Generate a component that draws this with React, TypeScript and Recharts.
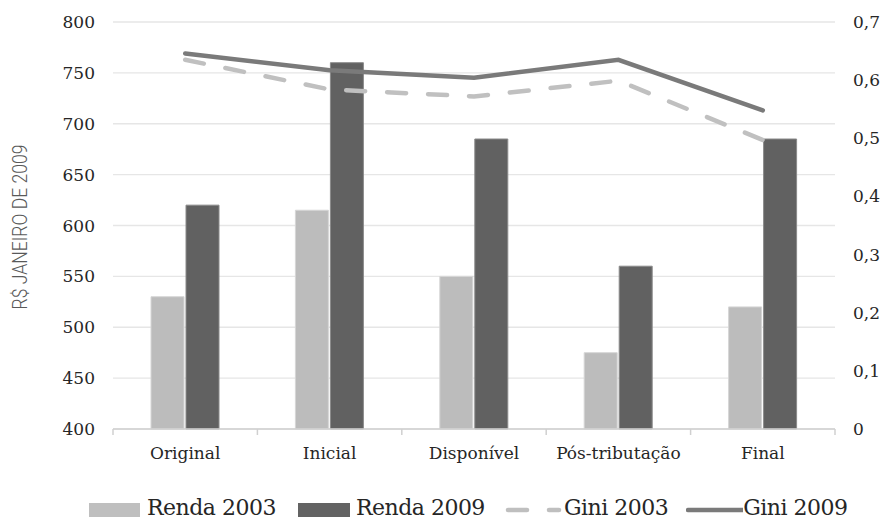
import { ComposedChart, Bar, Line, XAxis, YAxis, CartesianGrid, Legend } from 'recharts';

const categories = ['Original', 'Inicial', 'Disponível', 'Pós-tributação', 'Final'];
const renda2003 = [530, 615, 550, 475, 520];
const renda2009 = [620, 760, 685, 560, 685];
const gini2003 = [0.635, 0.584, 0.572, 0.599, 0.497];
const gini2009 = [0.646, 0.617, 0.604, 0.635, 0.548];
const leftTicks = [400, 450, 500, 550, 600, 650, 700, 750, 800];
const rightTicks = [0, 0.1, 0.2, 0.3, 0.4, 0.5, 0.6, 0.7];

const data = categories.map((c, i) => ({
  name: c,
  r2003: renda2003[i],
  r2009: renda2009[i],
  g2003: gini2003[i],
  g2009: gini2009[i],
}));

const SERIF = '"DejaVu Serif", serif';
const TEXT = '#262626';
const BAND = 722 / categories.length;

function CategoryTick(props: any) {
  const { x, y, payload, index } = props;
  return (
    <g>
      <line x1={x - BAND / 2} x2={x - BAND / 2} y1={y} y2={y + 6} stroke="#d0d0d0" strokeWidth={1.5} />
      {index === categories.length - 1 && (
        <line x1={x + BAND / 2} x2={x + BAND / 2} y1={y} y2={y + 6} stroke="#d0d0d0" strokeWidth={1.5} />
      )}
      <text x={x} y={y + 24} dy="0.35em" textAnchor="middle" fill={TEXT} fontFamily={SERIF} fontSize={17}>
        {payload.value}
      </text>
    </g>
  );
}

function RendaLabel() {
  return (
    <text
      transform="translate(20, 227) rotate(-90)"
      textAnchor="middle"
      dominantBaseline="central"
      fill="#595959"
      fontFamily="Roboto, sans-serif"
      fontWeight={300}
      fontSize={20}
      textLength={165}
      lengthAdjust="spacingAndGlyphs"
    >
      R$ JANEIRO DE 2009
    </text>
  );
}

function LegendBox() {
  const txt = { fontFamily: SERIF, fontSize: 22, letterSpacing: -0.5, color: TEXT, lineHeight: '22px' };
  return (
    <div style={{ height: 48, display: 'flex', alignItems: 'flex-end', paddingLeft: 89, boxSizing: 'border-box' }}>
      <div style={{ display: 'flex', alignItems: 'center', height: 22 }}>
        <span style={{ width: 51, height: 14, background: '#bfbfbf', marginRight: 7, marginTop: 4 }} />
        <span style={{ ...txt, marginRight: 22 }}>Renda 2003</span>
        <span style={{ width: 52, height: 14, background: '#636363', marginRight: 6, marginTop: 4 }} />
        <span style={{ ...txt, marginRight: 20 }}>Renda 2009</span>
        <svg width={57} height={10} style={{ marginRight: 2, marginTop: 4 }}>
          <line x1={3} x2={54} y1={5} y2={5} stroke="#bfbfbf" strokeWidth={4.5} strokeLinecap="round" strokeDasharray="19 22" />
        </svg>
        <span style={{ ...txt, marginRight: 18 }}>Gini 2003</span>
        <svg width={57} height={10} style={{ marginTop: 4 }}>
          <line x1={2} x2={57} y1={5} y2={5} stroke="#7a7a7a" strokeWidth={4.5} strokeLinecap="round" />
        </svg>
        <span style={txt}>Gini 2009</span>
      </div>
    </div>
  );
}

export default function App() {
  return (
    <div style={{ position: 'absolute', left: 0, top: 0, width: 883, height: 519, background: '#fff' }}>
      <ComposedChart
        width={883}
        height={519}
        data={data}
        margin={{ top: 22, right: 0, bottom: 0, left: 0 }}
        barGap={2}
      >
        <CartesianGrid yAxisId="left" vertical={false} stroke="#e6e6e6" strokeWidth={1.3} />
        <XAxis
          dataKey="name"
          height={42}
          axisLine={{ stroke: '#d0d0d0', strokeWidth: 1.5 }}
          tickLine={false}
          tickSize={0}
          tickMargin={0}
          tick={<CategoryTick />}
          interval={0}
        />
        <YAxis
          yAxisId="left"
          width={113}
          domain={[400, 800]}
          ticks={leftTicks}
          axisLine={false}
          tickLine={false}
          tickMargin={12}
          tick={{ fill: TEXT, fontFamily: SERIF, fontSize: 17 }}
          label={<RendaLabel />}
        />
        <YAxis
          yAxisId="right"
          orientation="right"
          width={48}
          domain={[0, 0.7]}
          ticks={rightTicks}
          axisLine={false}
          tickLine={false}
          tickMargin={12}
          tickFormatter={(v: number) => (v === 0 ? '0' : v.toFixed(1).replace('.', ','))}
          tick={{ fill: TEXT, fontFamily: SERIF, fontSize: 17, textAnchor: 'start' }}
        />
        <Legend verticalAlign="bottom" content={<LegendBox />} />
        <Bar yAxisId="left" dataKey="r2003" name="Renda 2003" fill="#bcbcbc" stroke="#d6d6d6" strokeWidth={1} barSize={33} isAnimationActive={false} />
        <Bar yAxisId="left" dataKey="r2009" name="Renda 2009" fill="#616161" stroke="#8a8a8a" strokeWidth={1} barSize={33} isAnimationActive={false} />
        <Line yAxisId="right" type="linear" dataKey="g2003" name="Gini 2003" stroke="#c0c0c0" strokeWidth={4.5} strokeDasharray="19 22" strokeLinecap="round" dot={false} activeDot={false} isAnimationActive={false} />
        <Line yAxisId="right" type="linear" dataKey="g2009" name="Gini 2009" stroke="#7a7a7a" strokeWidth={4.5} strokeLinecap="round" dot={false} activeDot={false} isAnimationActive={false} />
      </ComposedChart>
    </div>
  );
}
